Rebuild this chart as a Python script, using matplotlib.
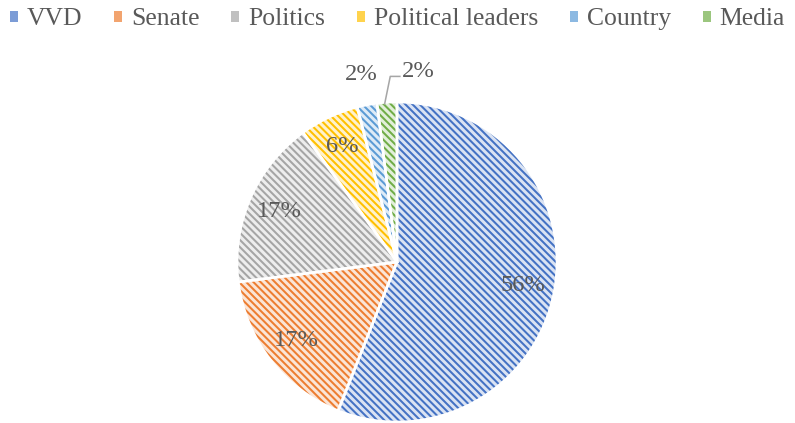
import matplotlib
matplotlib.use("Agg")
import matplotlib.pyplot as plt
from matplotlib.patches import Patch
import matplotlib.colors as mcolors
import numpy as np

categories = ["VVD", "Senate", "Politics", "Political leaders", "Country", "Media"]
values = [56, 17, 17, 6, 2, 2]
colors = ["#4472C4", "#ED7D31", "#A5A5A5", "#FFC000", "#5B9BD5", "#70AD47"]

DPI = 86
plt.rcParams['font.family'] = ['Liberation Serif', 'DejaVu Serif']
plt.rcParams['hatch.linewidth'] = 1.7
TXT = "#595959"

def tint(c, f):
    r = np.array(mcolors.to_rgb(c))
    return tuple(r * f + (1 - f) * 1.0)

fig = plt.figure(figsize=(795 / DPI, 423 / DPI), dpi=DPI)
R = 160
cx, cy = 397, 423 - 262
ax = fig.add_axes([(cx - R) / 795, (cy - R) / 423, 2 * R / 795, 2 * R / 423])

wedges, _ = ax.pie(values, startangle=90, counterclock=False,
                   colors=[tint(c, 0.2) for c in colors])
for w, c in zip(wedges, colors):
    w.set_edgecolor(c)
    w.set_linewidth(0)
    w.set_hatch('\\\\\\\\')
# white borders
w2, _ = ax.pie(values, startangle=90, counterclock=False,
               wedgeprops=dict(facecolor='none', edgecolor='white', linewidth=2.2))
ax.set_xlim(-1, 1)
ax.set_ylim(-1, 1)
ax.set_aspect('equal')

total = sum(values)
for i, (w, v) in enumerate(zip(wedges, values)):
    ang = np.deg2rad((w.theta1 + w.theta2) / 2)
    label = f"{round(100 * v / total)}%"
    if v / total >= 0.05:
        d = 0.8
        ax.text(d * np.cos(ang), d * np.sin(ang), label, ha='center', va='center',
                fontsize=20.5, color=TXT)
    elif categories[i] == "Country":
        d = 1.19
        ax.text(d * np.cos(ang), d * np.sin(ang), label, ha='center', va='center',
                fontsize=20.5, color=TXT)
    else:
        # leader line for Media
        p0 = (0.99 * np.cos(ang) - 0.015, 0.99 * np.sin(ang))
        p1 = (p0[0] + 0.035, 1.16)
        p2 = (p1[0] + 0.06, 1.16)
        ax.plot([p0[0], p1[0], p2[0]], [p0[1], p1[1], p2[1]], color="#A6A6A6",
                lw=1.3, clip_on=False)
        ax.text(p2[0] + 0.01, 1.19, label, ha='left', va='center',
                fontsize=20.5, color=TXT)

handles = [Patch(facecolor=tint(c, 0.7), edgecolor='none') for c in colors]
fig.legend(handles, categories, loc='upper center', bbox_to_anchor=(0.5, 0.983),
           ncol=6, frameon=False, fontsize=21.5, labelcolor=TXT,
           handlelength=0.3, handleheight=0.3, handletextpad=0.35,
           columnspacing=1.25, borderaxespad=0.0, borderpad=0.05)

fig.savefig("out.png", dpi=DPI, facecolor='white')
